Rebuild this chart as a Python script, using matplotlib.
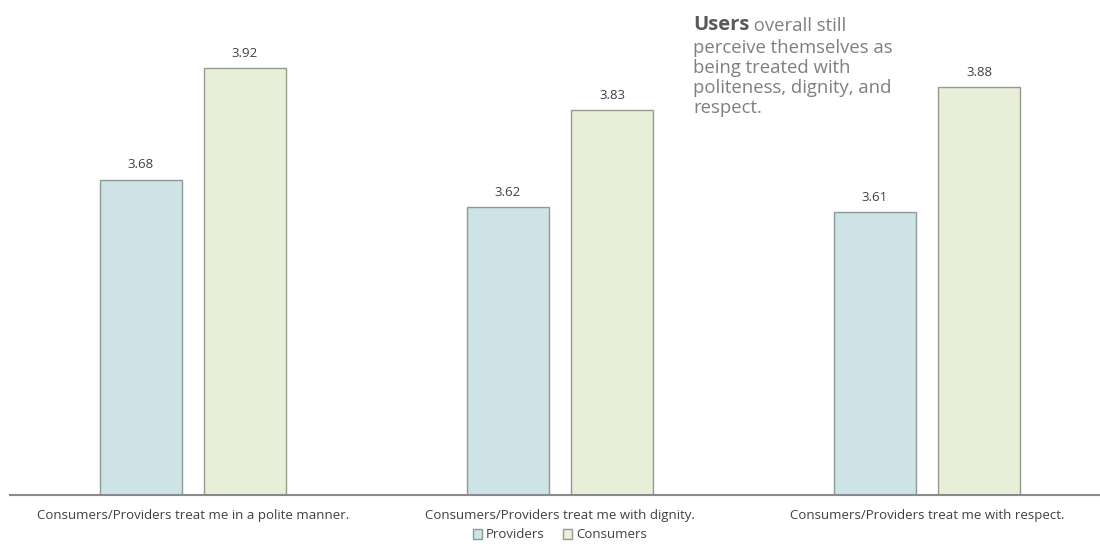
import matplotlib
matplotlib.use("Agg")
import matplotlib.pyplot as plt
import numpy as np

# Data
categories = [
    "Consumers/Providers treat me in a polite manner.",
    "Consumers/Providers treat me with dignity.",
    "Consumers/Providers treat me with respect.",
]
providers = [3.68, 3.62, 3.61]
consumers = [3.92, 3.83, 3.88]
note_lines = ["perceive themselves as", "being treated with",
              "politeness, dignity, and", "respect."]

plt.rcParams["font.family"] = ["Open Sans", "DejaVu Sans"]

fig = plt.figure(figsize=(11, 5.56), dpi=100)
ax = fig.add_axes([10 / 1100, 61 / 556, 1090 / 1100, 495 / 556])

x = np.arange(len(categories))
w = 0.2234
off = 0.1417
b1 = ax.bar(x - off, providers, w, color="#cde3e6", edgecolor="#8d9a9b", linewidth=1, label="Providers")
b2 = ax.bar(x + off, consumers, w, color="#e7efd8", edgecolor="#979a8c", linewidth=1, label="Consumers")

for bars, vals in ((b1, providers), (b2, consumers)):
    for rect, v in zip(bars, vals):
        ax.annotate(f"{v:.2f}", (rect.get_x() + rect.get_width() / 2, v),
                    xytext=(0, 6), textcoords="offset points",
                    ha="center", va="bottom", fontsize=9.5, color="#404040")

ax.set_ylim(3.0, 3.0 + 495 / 463.75)
ax.set_xlim((10 - 193) / 367, (1100 - 193) / 367)
ax.set_xticks(x)
ax.set_xticklabels(categories, fontsize=9.5, color="#404040")
ax.tick_params(axis="x", length=0, pad=10)
ax.set_yticks([])
for s in ("left", "right", "top"):
    ax.spines[s].set_visible(False)
ax.spines["bottom"].set_color("#8a8a8a")
ax.spines["bottom"].set_linewidth(1.5)

leg = fig.legend(loc="center", bbox_to_anchor=(560 / 1100, 1 - 535 / 556),
                 ncol=2, frameon=False, fontsize=9.5, handlelength=0.7,
                 handleheight=0.7, handletextpad=0.3, columnspacing=1.4)
for t in leg.get_texts():
    t.set_color("#404040")

# annotation text block, one line at a time (baselines ~20 px apart)
t1 = fig.text(693 / 1100, 1 - 30 / 556, "Users", fontsize=14.5, fontweight="bold",
              color="#595959", va="baseline", ha="left")
ax.annotate(" overall still", xy=(1, 0), xycoords=t1, va="bottom", ha="left",
            fontsize=13.3, color="#7f7f7f", annotation_clip=False)
for i, line in enumerate(note_lines):
    fig.text(693 / 1100, 1 - (53 + 20 * i) / 556, line,
             fontsize=13.3, color="#7f7f7f", va="baseline", ha="left")

fig.savefig("out.png", dpi=100)
